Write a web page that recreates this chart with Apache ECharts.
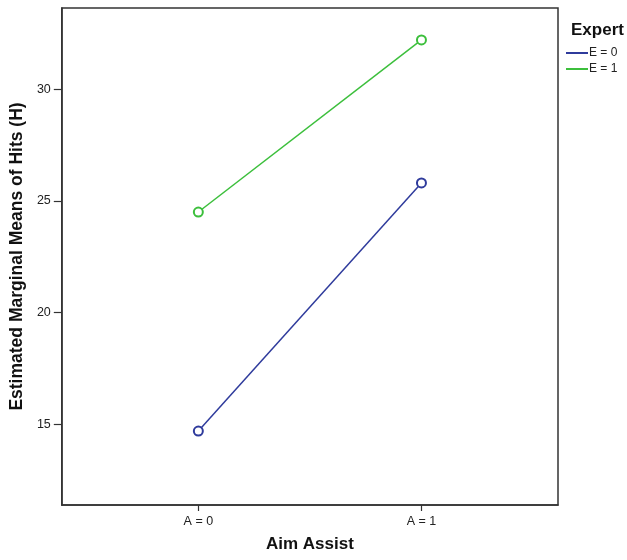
<!DOCTYPE html>
<html><head><meta charset="utf-8">
<script src="https://cdn.jsdelivr.net/npm/echarts@6/dist/echarts.min.js"></script>
<style>html,body{margin:0;padding:0;background:#fff}#c{width:627px;height:560px}</style>
</head><body><div id="c"></div>
<script>
const categories = ['A = 0', 'A = 1'];
const seriesNames = ['E = 0', 'E = 1'];
const valuesE0 = [14.7, 25.8];
const valuesE1 = [24.5, 32.2];
const yTicks = [15, 20, 25, 30];

const colors = ['#2f3b9c', '#3cbf3c'];
const font = 'Liberation Sans, Arial, sans-serif';
const chart = echarts.init(document.getElementById('c'));
function mk(name, vals, color) {
  return {
    name: name, type: 'line',
    data: vals.map((v, i) => [i, v]),
    symbol: 'emptyCircle', symbolSize: 9,
    lineStyle: { color: color, width: 1.5 },
    itemStyle: { color: color, borderWidth: 1.6 },
    emphasis: { disabled: true }, animation: false
  };
}
chart.setOption({
  animation: false,
  title: { text: 'Expert', left: 566, top: 17, textStyle: { fontFamily: font, fontSize: 17, fontWeight: 'bold', color: '#111' } },
  legend: {
    left: 561, top: 42, orient: 'vertical', itemGap: 4, itemWidth: 22, itemHeight: 2,
    icon: 'rect',
    data: seriesNames.map((n, i) => ({ name: n, itemStyle: { color: colors[i] } })),
    textStyle: { fontFamily: font, fontSize: 12, color: '#222', padding: [0, 0, 0, -4] }
  },
  grid: { left: 60, top: 8, width: 498, height: 497, show: true, borderColor: '#333', borderWidth: 1.5, backgroundColor: '#fff' },
  xAxis: {
    type: 'value', min: -0.612, max: 1.612,
    name: 'Aim Assist', nameLocation: 'middle', nameGap: 31,
    nameTextStyle: { fontFamily: font, fontSize: 17, fontWeight: 'bold', color: '#111' },
    axisLine: { show: true, onZero: false, lineStyle: { color: '#333', width: 1.5 } },
    axisTick: { show: true, customValues: [0, 1], length: 6, lineStyle: { color: '#333', width: 1.2 } },
    axisLabel: { customValues: [0, 1], formatter: v => categories[Math.round(v)], fontFamily: font, fontSize: 12.5, color: '#222', margin: 10 },
    splitLine: { show: false }
  },
  yAxis: {
    type: 'value', min: 11.39, max: 33.63,
    name: 'Estimated Marginal Means of Hits (H)', nameLocation: 'middle', nameGap: 34,
    nameTextStyle: { fontFamily: font, fontSize: 17.5, fontWeight: 'bold', color: '#111' },
    axisLine: { show: true, onZero: false, lineStyle: { color: '#333', width: 1.5 } },
    axisTick: { show: true, customValues: yTicks, length: 8, lineStyle: { color: '#333', width: 1.2 } },
    axisLabel: { customValues: yTicks, fontFamily: font, fontSize: 12.5, color: '#222', margin: 11 },
    splitLine: { show: false }
  },
  series: [mk(seriesNames[0], valuesE0, colors[0]), mk(seriesNames[1], valuesE1, colors[1])]
});
</script></body></html>
